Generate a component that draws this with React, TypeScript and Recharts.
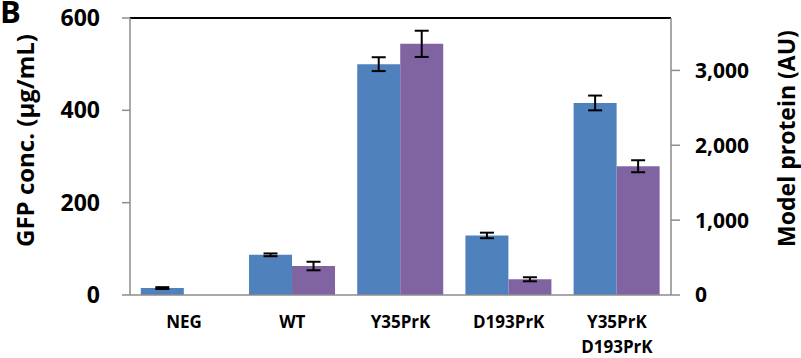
import {
  BarChart,
  Bar,
  XAxis,
  YAxis,
  ErrorBar,
  ReferenceLine,
} from 'recharts';

const categories = ['NEG', 'WT', 'Y35PrK', 'D193PrK', 'Y35PrK\nD193PrK'];
const gfpValues = [15, 87, 500, 129, 416];
const gfpErrors = [2, 3, 15, 6, 16];
const modelValues = [0, 387, 3355, 210, 1720];
const modelErrors: (number | null)[] = [null, 57, 175, 27, 80];

const leftTicks = [0, 200, 400, 600];
const rightTicks = [0, 1000, 2000, 3000];
const boundaryTicks = [0, 1, 2, 3, 4, 5];

const data = categories.map((name, i) => ({
  name,
  gfp: gfpValues[i],
  gfpErr: gfpErrors[i],
  model: modelValues[i],
  modelErr: modelErrors[i],
}));

const FONT = '"Open Sans", "Liberation Sans", sans-serif';
const AXIS_GRAY = '#8c8c8c';

const CategoryTick = ({ x, y, payload }: any) => {
  const lines = String(payload.value).split('\n');
  return (
    <text x={x} y={y} textAnchor="middle" fontFamily={FONT} fontWeight={700} fontSize={17} fill="#000">
      {lines.map((l, i) => (
        <tspan key={i} x={x} dy={25}>
          {l}
        </tspan>
      ))}
    </text>
  );
};

const LeftTitle = ({ viewBox }: any) => {
  const cx = viewBox.x - 6;
  const cy = viewBox.y + viewBox.height / 2 - 16;
  return (
    <text
      x={cx}
      y={cy}
      transform={`rotate(-90, ${cx}, ${cy})`}
      textAnchor="middle"
      dominantBaseline="central"
      fontFamily={FONT}
      fontWeight={700}
      fontSize={24}
      fill="#000"
    >
      GFP conc. (µg/mL)
    </text>
  );
};

const RightTitle = ({ viewBox }: any) => {
  const cx = viewBox.x + viewBox.width + 15;
  const cy = viewBox.y + viewBox.height / 2 - 18;
  return (
    <text
      x={cx}
      y={cy}
      transform={`rotate(-90, ${cx}, ${cy})`}
      textAnchor="middle"
      dominantBaseline="central"
      fontFamily={FONT}
      fontWeight={700}
      fontSize={23}
      fill="#000"
    >
      Model protein (AU)
    </text>
  );
};

export default function App() {
  return (
    <div style={{ position: 'absolute', left: 0, top: 0, width: 801, height: 358, background: '#fff' }}>
      <div
        style={{
          position: 'absolute',
          left: 0,
          top: 0,
          fontFamily: FONT,
          fontWeight: 700,
          fontSize: 31,
          lineHeight: '22px',
          color: '#000',
        }}
      >
        B
      </div>
      <BarChart
        width={801}
        height={358}
        data={data}
        margin={{ top: 18, right: 30, bottom: 0, left: 30 }}
        barCategoryGap="10%"
        barGap={0}
      >
        <XAxis
          dataKey="name"
          xAxisId="cat"
          tick={<CategoryTick />}
          tickLine={false}
          axisLine={{ stroke: AXIS_GRAY, strokeWidth: 1.5 }}
          interval={0}
          height={63}
        />
        <XAxis
          xAxisId="edges"
          type="number"
          domain={[0, 5]}
          ticks={boundaryTicks}
          tickFormatter={() => ''}
          axisLine={false}
          tickLine={{ stroke: AXIS_GRAY, strokeWidth: 1.5 }}
          tickSize={7}
          height={0}
        />
        <YAxis
          yAxisId="left"
          domain={[0, 600]}
          ticks={leftTicks}
          width={100}
          tickSize={8}
          tickLine={{ stroke: AXIS_GRAY, strokeWidth: 1.5 }}
          axisLine={{ stroke: AXIS_GRAY, strokeWidth: 1.5 }}
          tick={{ fontFamily: FONT, fontWeight: 700, fontSize: 23, fill: '#000' }}
          tickMargin={22}
          label={<LeftTitle />}
        />
        <YAxis
          yAxisId="right"
          orientation="right"
          domain={[0, 3700]}
          ticks={rightTicks}
          width={100}
          tickSize={9}
          tickLine={{ stroke: AXIS_GRAY, strokeWidth: 1.5 }}
          axisLine={{ stroke: AXIS_GRAY, strokeWidth: 1.5 }}
          tick={{ fontFamily: FONT, fontWeight: 700, fontSize: 21, fill: '#000' }}
          tickMargin={15}
          tickFormatter={(v: number) => v.toLocaleString('en-US')}
          label={<RightTitle />}
        />
        <ReferenceLine y={600} yAxisId="left" xAxisId="cat" stroke="#000" strokeWidth={2} />
        <Bar dataKey="gfp" xAxisId="cat" yAxisId="left" fill="#4F81BD" isAnimationActive={false}>
          <ErrorBar dataKey="gfpErr" width={7} stroke="#000" strokeWidth={2} direction="y" />
        </Bar>
        <Bar dataKey="model" xAxisId="cat" yAxisId="right" fill="#8064A2" isAnimationActive={false}>
          <ErrorBar dataKey="modelErr" width={7} stroke="#000" strokeWidth={2} direction="y" />
        </Bar>
      </BarChart>
    </div>
  );
}
